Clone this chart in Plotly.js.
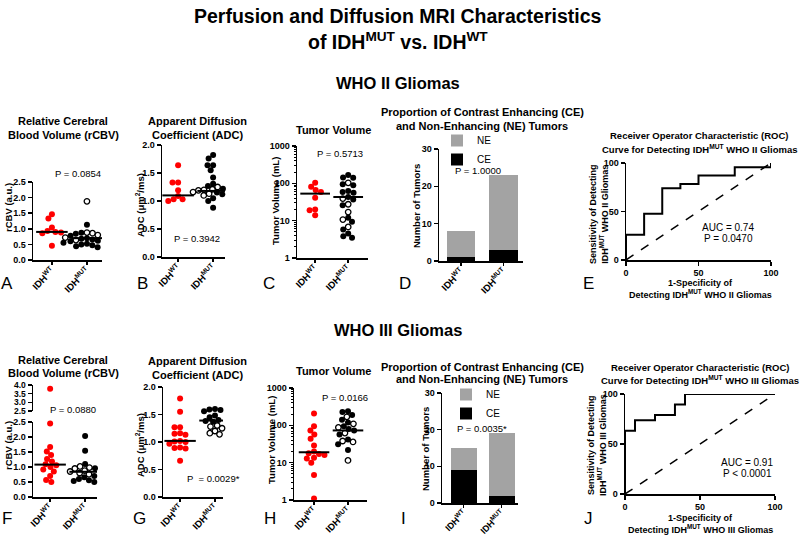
<!DOCTYPE html>
<html><head><meta charset="utf-8">
<script src="https://cdn.plot.ly/plotly-3.0.1.min.js"></script>
<style>html,body{margin:0;padding:0;background:#fff}#chart{width:800px;height:537px}</style>
</head><body><div id="chart"></div>
<script>
// ================= DATA =================
const categories = ['IDH<sup>WT</sup>', 'IDH<sup>MUT</sup>'];

// ---- WHO II ----
const rcbv2_wt = [1.47, 1.33, 1.04, 0.93, 0.90, 0.88, 0.86, 0.46];
const rcbv2_mut_filled = [1.13, 0.87, 0.84, 0.78, 0.74, 0.70, 0.68, 0.66, 0.62, 0.60, 0.58, 0.55, 0.52, 0.50, 0.47, 0.44, 0.41];
const rcbv2_mut_open = [1.88, 0.88, 0.86, 0.80, 0.72, 0.64];
const rcbv2_median = [0.90, 0.70];

const adc2_wt = [1.64, 1.33, 1.33, 1.19, 1.09, 1.03, 1.03, 1.00];
const adc2_mut_filled = [1.82, 1.76, 1.64, 1.64, 1.55, 1.42, 1.31, 1.27, 1.22, 1.18, 1.15, 1.12, 1.08, 1.05, 1.00, 0.88];
const adc2_mut_open = [1.25, 1.21, 1.20, 1.19, 1.16, 1.13, 1.10];
const adc2_median = [1.10, 1.18];

const vol2_wt = [103, 81, 66, 59, 41, 20, 19, 14];
const vol2_mut_filled = [166, 144, 142, 95, 89, 62, 59, 56, 43, 37, 26, 12, 9.3, 5.8, 4.5, 3.8, 3.5];
const vol2_mut_open = [103, 39, 27.5, 17, 10.7, 6.8];
const vol2_median = [53, 43];

const ce2 = [1, 3];     // contrast enhancing  (WT, MUT)
const ne2 = [7, 20];    // non-enhancing       (WT, MUT)

const roc2_fpr = [0, 0, 12.5, 12.5, 25, 25, 37.5, 37.5, 50, 50, 75, 75, 100, 100];
const roc2_tpr = [0, 26.1, 26.1, 47.8, 47.8, 73.9, 73.9, 78.3, 78.3, 87.0, 87.0, 95.7, 95.7, 100];

// ---- WHO III ----
const rcbv3_wt = [3.78, 2.45, 1.67, 1.52, 1.40, 1.27, 1.18, 1.09, 1.06, 1.00, 0.92, 0.85, 0.70, 0.57, 0.50];
const rcbv3_mut_filled = [2.03, 1.54, 1.10, 0.96, 0.84, 0.70, 0.66, 0.60, 0.56, 0.53, 0.50];
const rcbv3_mut_open = [1.02, 0.98, 0.95, 0.92, 0.88, 0.85, 0.80, 0.76];
const rcbv3_median = [1.08, 0.84];

const adc3_wt = [1.79, 1.55, 1.27, 1.27, 1.16, 1.15, 1.13, 1.02, 1.01, 1.00, 0.97, 0.90, 0.89, 0.88, 0.66];
const adc3_mut_filled = [1.60, 1.59, 1.58, 1.56, 1.52, 1.48, 1.45, 1.40, 1.39, 1.38, 1.37, 1.36];
const adc3_mut_open = [1.30, 1.28, 1.25, 1.20, 1.16, 1.14, 1.13];
const adc3_median = [1.02, 1.39];

const vol3_wt = [208, 95, 73, 57, 44, 29, 20, 18, 17, 16, 13.5, 13, 10, 4.7, 1.1];
const vol3_mut_filled = [240, 229, 190, 142, 120, 95, 80, 73, 57, 42, 31, 22];
const vol3_mut_open = [169, 110, 88, 62, 38, 36, 11.5];
const vol3_median = [19, 73];

const ce3 = [9, 2];
const ne3 = [6, 17];

const roc3_fpr = [0, 0, 6.67, 6.67, 20, 20, 33.3, 33.3, 40, 40, 100];
const roc3_tpr = [0, 63.2, 63.2, 73.7, 73.7, 78.9, 78.9, 89.5, 89.5, 100, 100];

const chance = [0, 100];

const pvals = {A:'P = 0.0854', B:'P = 0.3942', C:'P = 0.5713', D:'P = 1.0000',
               F:'P = 0.0880', G:'P  = 0.0029*', H:'P = 0.0166', I:'P = 0.0035*'};
const aucE = ['AUC = 0.74', 'P = 0.0470'];
const aucJ = ['AUC = 0.91', 'P < 0.0001'];

// ================= LAYOUT HELPERS =================
const F = 'Liberation Sans, Arial, Helvetica, sans-serif';
const W = 800, H = 537;
const fx = p => p / W;
const fy = p => 1 - p / H;
const RED = '#ff0000', GREY = '#a3a3a3';

// panel boxes in pixels
const P = {
  A: {x:[33,102], xr:[-0.54,1.43], yLo:[182,260], yHi:[149,172]},
  B: {x:[162,225], xr:[-0.46,1.34], y:[145,257], yr:[0,2]},
  C: {x:[297,368], xr:[-0.55,1.6], y:[146,258], log:true},
  D: {x:[439,523], xr:[-0.52,1.46], y:[149,261]},
  E: {x:[626,771], y:[163,260]},
  F: {x:[33,97], xr:[-0.49,1.34], yLo:[422,497], yHi:[385,411]},
  G: {x:[163,223], xr:[-0.49,1.23], y:[387,497], yr:[0,2]},
  H: {x:[294,367], xr:[-0.59,1.56], y:[388,500], log:true},
  I: {x:[442,518], xr:[-0.57,1.43], y:[393,503]},
  J: {x:[625,775], y:[394,494]}
};

const tickF = {family:F, size:9, color:'#000', weight:'bold'};
const base = {showgrid:false, zeroline:false, showline:true, linecolor:'#000', linewidth:1.5,
  ticks:'outside', ticklen:4, tickwidth:1.5, tickcolor:'#000', tickfont:tickF, fixedrange:true};
const layout = {
  width:W, height:H, margin:{l:0,r:0,t:0,b:0}, paper_bgcolor:'#fff', plot_bgcolor:'rgba(0,0,0,0)',
  barmode:'stack', showlegend:true, font:{family:F, color:'#000'}, annotations:[]
};
const data = [];

function catX(id, p, yanchor, fs) {
  layout['xaxis' + id] = Object.assign({}, base, {domain:[fx(p.x[0]), fx(p.x[1])], range:p.xr,
    anchor:'y' + yanchor, tickvals:[0,1], ticktext:categories, tickangle:-45, ticklen:3,
    ticklabelstandoff:-3, tickfont:{family:F, size:fs || 9.5, color:'#000', weight:'bold'}});
}
function yAx(id, dom, xanchor, extra) {
  layout['yaxis' + id] = Object.assign({}, base, {domain:[fy(dom[1]), fy(dom[0])], anchor:'x' + xanchor}, extra);
}
const xs = id => id === 1 ? 'x' : 'x' + id;
const ys = id => id === 1 ? 'y' : 'y' + id;

// beeswarm: offsets (category units) computed from pixel positions
function swarm(pix, kx, d) {
  const idx = pix.map((_, i) => i).sort((a, b) => pix[a] - pix[b]);
  const placed = [], off = new Array(pix.length);
  for (const i of idx) {
    const y = pix[i];
    const c = [0];
    for (const q of placed) {
      const dy = Math.abs(q.y - y);
      if (dy < d) { const dx = Math.sqrt(d * d - dy * dy); c.push(q.x + dx, q.x - dx); }
    }
    c.sort((a, b) => Math.abs(a) - Math.abs(b) || a - b);
    for (const cx of c) {
      if (placed.every(q => (q.x - cx) ** 2 + (q.y - y) ** 2 >= d * d - 1e-6)) {
        placed.push({x:cx, y}); off[i] = cx / kx; break;
      }
    }
  }
  return off;
}

function pixFn(p) {
  if (p.yLo) return v => v <= 2.5 ? p.yLo[1] - v / 2.5 * (p.yLo[1] - p.yLo[0])
                                  : p.yHi[1] - (v - 2.5) / 1.5 * (p.yHi[1] - p.yHi[0]);
  if (p.log) return v => p.y[1] - Math.log10(v) / 3 * (p.y[1] - p.y[0]);
  return v => p.y[1] - (v - p.yr[0]) / (p.yr[1] - p.yr[0]) * (p.y[1] - p.y[0]);
}

function addGroup(p, xid, yid, yHiId, cat, filled, open, color) {
  const all = filled.concat(open);
  const pf = pixFn(p);
  const kx = (p.x[1] - p.x[0]) / (p.xr[1] - p.xr[0]);
  const off = swarm(all.map(pf), kx, 5.6);
  const sets = [
    {vals: filled, o: off.slice(0, filled.length), marker:{color:color, size:6, line:{width:0}}},
    {vals: open, o: off.slice(filled.length), marker:{symbol:'circle-open', color:'#000', size:5.5, line:{width:1.3, color:'#000'}}}
  ];
  for (const s of sets) {
    if (!s.vals.length) continue;
    const lo = {x:[], y:[]}, hi = {x:[], y:[]};
    s.vals.forEach((v, i) => {
      const t = (yHiId && v > 2.5) ? hi : lo;
      t.x.push(cat + s.o[i]); t.y.push(v);
    });
    for (const [t, ya] of [[lo, yid], [hi, yHiId]]) {
      if (!t.x.length) continue;
      data.push({type:'scatter', mode:'markers', x:t.x, y:t.y, xaxis:xs(xid), yaxis:ys(ya),
        marker:s.marker, showlegend:false, hoverinfo:'y', cliponaxis:false});
    }
  }
}
function addMedians(xid, yid, med) {
  med.forEach((m, c) => data.push({type:'scatter', mode:'lines', x:[c - 0.45, c + 0.45], y:[m, m],
    xaxis:xs(xid), yaxis:ys(yid), line:{color:'#000', width:2}, showlegend:false, hoverinfo:'skip'}));
}

function dotPanel(p, xid, yid, yHiId, wt, mutF, mutO, med) {
  catX(xid, p, yid);
  if (p.yLo) {
    yAx(yid, p.yLo, xid, {range:[0, 2.5], dtick:0.5, tickformat:'.1f'});
    yAx(yHiId, p.yHi, xid, {range:[2.5, 4.0], dtick:0.5, tickformat:'.1f', tickfont:{family:F, size:8.5, color:'#000', weight:'bold'}});
  } else if (p.log) {
    yAx(yid, p.y, xid, {type:'log', range:[0, 3], dtick:1, exponentformat:'none',
      minor:{ticks:'outside', ticklen:2, tickwidth:1, tickcolor:'#000', dtick:'D1', showgrid:false}});
  } else {
    yAx(yid, p.y, xid, {range:p.yr, dtick:0.5, tickformat:'.1f'});
  }
  addGroup(p, xid, yid, yHiId, 0, wt, [], RED);
  addGroup(p, xid, yid, yHiId, 1, mutF, mutO, '#000');
  addMedians(xid, yid, med);
}

function barPanel(p, xid, yid, ce, ne, legendId, lx, ly, fs) {
  catX(xid, p, yid, fs);
  yAx(yid, p.y, xid, {range:[0, 30], dtick:10});
  const w = 0.68;
  data.push({type:'bar', x:[0, 1], y:ce, width:w, name:'CE', marker:{color:'#000', line:{width:0}},
    xaxis:xs(xid), yaxis:ys(yid), legend:legendId, hoverinfo:'y'});
  data.push({type:'bar', x:[0, 1], y:ne, width:w, name:'NE', marker:{color:GREY, line:{width:0}},
    xaxis:xs(xid), yaxis:ys(yid), legend:legendId, hoverinfo:'y'});
  layout[legendId] = {x:fx(lx), y:fy(ly), xanchor:'left', yanchor:'top', bgcolor:'rgba(0,0,0,0)',
    traceorder:'reversed', font:{family:F, size:10, color:'#000'}, itemwidth:30, tracegroupgap:0};
}

function rocPanel(p, xid, yid, fpr, tpr) {
  layout['xaxis' + xid] = Object.assign({}, base, {domain:[fx(p.x[0]), fx(p.x[1])], range:[0, 100],
    anchor:ys(yid), tickvals:[0, 50, 100]});
  yAx(yid, p.y, xid, {range:[0, 100], tickvals:[0, 50, 100]});
  data.push({type:'scatter', mode:'lines', x:chance, y:chance, xaxis:xs(xid), yaxis:ys(yid),
    line:{color:'#000', width:1.5, dash:'dash'}, showlegend:false, hoverinfo:'skip'});
  data.push({type:'scatter', mode:'lines', x:fpr, y:tpr, xaxis:xs(xid), yaxis:ys(yid),
    line:{color:'#000', width:2, shape:'linear'}, showlegend:false, cliponaxis:false});
}

// ================= BUILD =================
dotPanel(P.A, 1, 1, 2, rcbv2_wt, rcbv2_mut_filled, rcbv2_mut_open, rcbv2_median);
dotPanel(P.B, 2, 3, null, adc2_wt, adc2_mut_filled, adc2_mut_open, adc2_median);
dotPanel(P.C, 3, 4, null, vol2_wt, vol2_mut_filled, vol2_mut_open, vol2_median);
barPanel(P.D, 4, 5, ce2, ne2, 'legend', 437, 126);
rocPanel(P.E, 5, 6, roc2_fpr, roc2_tpr);

dotPanel(P.F, 6, 7, 8, rcbv3_wt, rcbv3_mut_filled, rcbv3_mut_open, rcbv3_median);
dotPanel(P.G, 7, 9, null, adc3_wt, adc3_mut_filled, adc3_mut_open, adc3_median);
dotPanel(P.H, 8, 10, null, vol3_wt, vol3_mut_filled, vol3_mut_open, vol3_median);
barPanel(P.I, 9, 11, ce3, ne3, 'legend2', 446, 380, 9);
rocPanel(P.J, 10, 12, roc3_fpr, roc3_tpr);

// ================= TEXT =================
function T(text, x, y, size, bold, extra) {
  layout.annotations.push(Object.assign({text, x:fx(x), y:fy(y), xref:'paper', yref:'paper', showarrow:false,
    xanchor:'center', yanchor:'middle', font:{family:F, size, color:'#000', weight: bold ? 'bold' : 'normal'}}, extra || {}));
}
const rot = {textangle:-90};

T('Perfusion and Diffusion MRI Characteristics', 398, 16, 19.5, true);
T('of IDH<sup>MUT</sup> vs. IDH<sup>WT</sup>', 398, 41, 19.5, true);
T('WHO II Gliomas', 398, 83, 16.5, true);
T('WHO III Gliomas', 398, 330, 16.5, true);

// panel titles
const PT = 11, RT = 9.5;
T('Relative Cerebral', 63, 121, PT, true); T('Blood Volume (rCBV)', 63, 135, PT, true);
T('Apparent Diffusion', 197, 121, PT, true); T('Coefficient (ADC)', 197, 135, PT, true);
T('Tumor Volume', 333, 130, PT, true);
T('Proportion of Contrast Enhancing (CE)', 482, 112, PT, true); T('and Non-Enhancing (NE) Tumors', 482, 126, PT, true);
T('Receiver Operator Characteristic (ROC)', 699, 136, RT, true); T('Curve for Detecting IDH<sup>MUT</sup> WHO II Gliomas', 699, 149, RT, true);

T('Relative Cerebral', 63, 360, PT, true); T('Blood Volume (rCBV)', 63, 373, PT, true);
T('Apparent Diffusion', 197, 361, PT, true); T('Coefficient (ADC)', 197, 375, PT, true);
T('Tumor Volume', 333, 371, PT, true);
T('Proportion of Contrast Enhancing (CE)', 482, 367, PT, true); T('and Non-Enhancing (NE) Tumors', 482, 379, PT, true);
T('Receiver Operator Characteristic (ROC)', 700, 367, RT, true); T('Curve for Detecting IDH<sup>MUT</sup> WHO III Gliomas', 700, 380, RT, true);

// axis titles
const AT = 9.5;
T('rCBV (a.u.)', 8, 208, AT, true, rot);
T('ADC (\u03bcm<sup>2</sup>/ms)', 140, 205, AT, true, rot);
T('Tumor Volume (mL)', 275, 201, AT, true, rot);
T('Number of Tumors', 417, 206, AT, true, rot);
T('Sensitivity of Detecting<br>IDH<sup>MUT</sup> WHO II Gliomas', 599, 214, 9, true, rot);
T('1-Specificity of', 700, 283, 9, true); T('Detecting IDH<sup>MUT</sup> WHO II Gliomas', 700, 294, 9, true);

T('rCBV (a.u.)', 8, 446, AT, true, rot);
T('ADC (\u03bcm<sup>2</sup>/ms)', 140, 445, AT, true, rot);
T('Tumor Volume (mL)', 271, 440, AT, true, rot);
T('Number of Tumors', 425, 449, AT, true, rot);
T('Sensitivity of Detecting<br>IDH<sup>MUT</sup> WHO III Gliomas', 597, 445, 9, true, rot);
T('1-Specificity of', 700, 518, 9, true); T('Detecting IDH<sup>MUT</sup> WHO III Gliomas', 700, 529, 9, true);

// p values
const PV = 9.5;
T(pvals.A, 78, 173, PV); T(pvals.B, 197, 238, PV); T(pvals.C, 340, 153, PV); T(pvals.D, 478, 170, PV);
T(pvals.F, 73, 409, PV); T(pvals.G, 213, 478, PV); T(pvals.H, 345, 397, PV); T(pvals.I, 482, 428, PV);
T(aucE[0], 728, 227, 10); T(aucE[1], 728, 238, 10);
T(aucJ[0], 747, 462, 10); T(aucJ[1], 747, 473, 10);

// panel letters
const LT = 17;
[['A',7,283],['B',142,283],['C',269,283],['D',405,283],['E',588,283],
 ['F',7,518],['G',139,518],['H',270,518],['I',403,518],['J',588,518]].forEach(l => T(l[0], l[1], l[2], LT));

Plotly.newPlot('chart', data, layout, {staticPlot:true, displayModeBar:false});
</script></body></html>
